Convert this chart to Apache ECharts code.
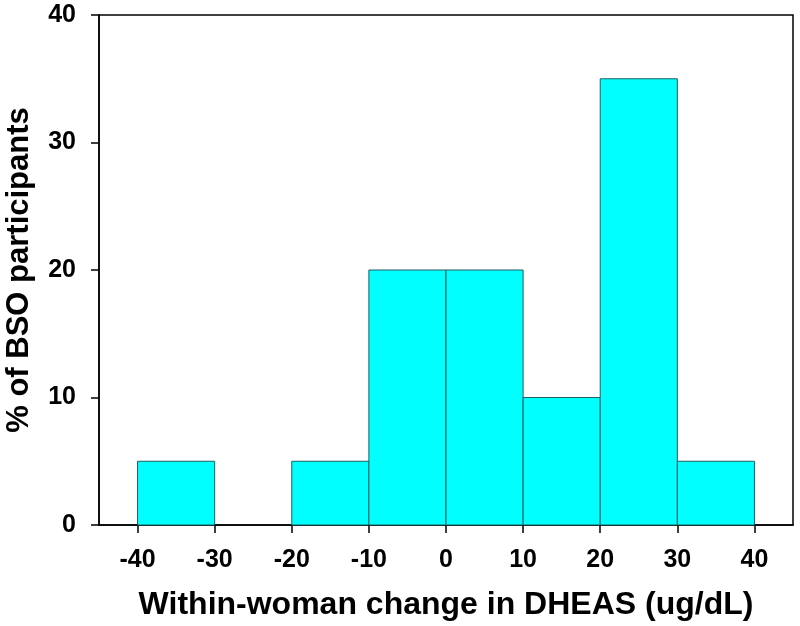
<!DOCTYPE html>
<html>
<head>
<meta charset="utf-8">
<script src="https://cdn.jsdelivr.net/npm/echarts@6/dist/echarts.min.js"></script>
<style>
  html, body { margin: 0; padding: 0; background: #fff; }
  #chart { width: 800px; height: 626px; }
</style>
</head>
<body>
<div id="chart"></div>
<script>
// histogram bins (ug/dL) and % of participants
var binStart = [-40, -30, -20, -10, 0, 10, 20, 30];
var binEnd = [-30, -20, -10, 0, 10, 20, 30, 40];
var percent = [5, 0, 5, 20, 20, 10, 35, 5];
var xTicks = [-40, -30, -20, -10, 0, 10, 20, 30, 40];

var chart = echarts.init(document.getElementById("chart"));

var font = "'Liberation Sans', Arial, sans-serif";

var data = binStart.map(function (s, i) {
  return [s, binEnd[i], percent[i]];
});

chart.setOption({
  animation: false,
  grid: {
    left: 99,
    right: 7,
    top: 15,
    bottom: 101,
    containLabel: false,
    outerBoundsMode: "none",
    show: true,
    borderColor: "#000",
    borderWidth: 1.5,
  },
  xAxis: {
    type: "value",
    min: -45,
    max: 45,
    name: "Within-woman change in DHEAS (ug/dL)",
    nameLocation: "middle",
    nameGap: 64,
    nameTextStyle: {
      fontFamily: font,
      fontWeight: "bold",
      fontSize: 32,
      color: "#000",
    },
    axisLine: { show: true, onZero: false, lineStyle: { color: "#000", width: 1.5 } },
    axisTick: {
      show: true,
      length: 8,
      customValues: xTicks,
      lineStyle: { color: "#000", width: 1.5 },
    },
    axisLabel: {
      customValues: xTicks,
      margin: 23,
      fontFamily: font,
      fontWeight: "bold",
      fontSize: 25,
      color: "#000",
    },
    splitLine: { show: false },
  },
  yAxis: {
    type: "value",
    min: 0,
    max: 40,
    interval: 10,
    name: "% of BSO participants",
    nameLocation: "middle",
    nameGap: 64,
    nameTextStyle: {
      fontFamily: font,
      fontWeight: "bold",
      fontSize: 31,
      color: "#000",
    },
    axisLine: { show: true, onZero: false, lineStyle: { color: "#000", width: 1.5 } },
    axisTick: { show: true, length: 8, lineStyle: { color: "#000", width: 1.5 } },
    axisLabel: {
      margin: 23,
      fontFamily: font,
      fontWeight: "bold",
      fontSize: 25,
      color: "#000",
    },
    splitLine: { show: false },
  },
  series: [
    {
      type: "custom",
      data: data,
      encode: { x: [0, 1], y: 2 },
      renderItem: function (params, api) {
        if (!api.value(2)) return null; // empty bin, nothing drawn
        var p0 = api.coord([api.value(0), 0]);
        var p1 = api.coord([api.value(1), api.value(2)]);
        return {
          type: "rect",
          shape: {
            x: p0[0],
            y: p1[1],
            width: p1[0] - p0[0],
            height: p0[1] - p1[1],
          },
          style: {
            fill: "#00ffff",
            stroke: "#1f5f5f",
            lineWidth: 1,
          },
        };
      },
      z: 1,
    },
  ],
});
</script>
</body>
</html>
